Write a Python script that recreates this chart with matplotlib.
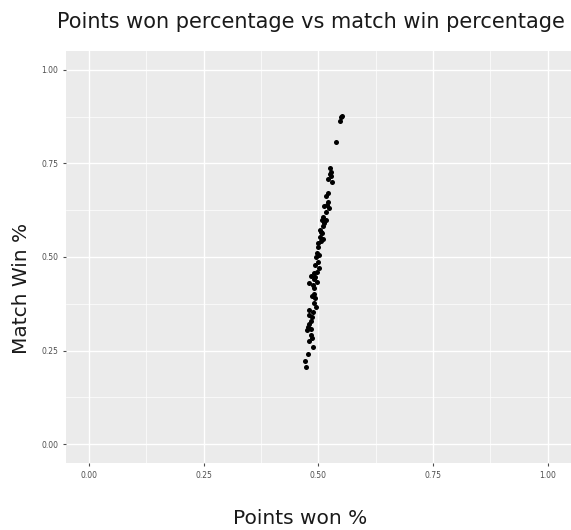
import matplotlib
matplotlib.use('Agg')
import matplotlib.pyplot as plt
from matplotlib.ticker import MultipleLocator

# points won share vs match win share
points_won = [0.549, 0.547, 0.551, 0.538, 0.525, 0.527,
              0.525, 0.527, 0.522, 0.530, 0.520, 0.517, 0.522, 0.518, 0.513,
              0.524, 0.517, 0.511, 0.517, 0.508, 0.513, 0.504, 0.508,
              0.506, 0.504, 0.509, 0.500, 0.499, 0.502, 0.495, 0.500, 0.493,
              0.502, 0.497, 0.490, 0.484, 0.493, 0.480, 0.488, 0.497, 0.491,
              0.490, 0.493, 0.490, 0.495, 0.480, 0.488, 0.486, 0.483, 0.480,
              0.477, 0.475, 0.484, 0.483, 0.486, 0.480, 0.488, 0.478, 0.471,
              0.473, 0.496, 0.491, 0.485, 0.479, 0.511, 0.506]
match_win = [0.873, 0.862, 0.877, 0.808, 0.737, 0.728,
             0.722, 0.715, 0.708, 0.701, 0.670, 0.663, 0.648, 0.639, 0.635,
             0.630, 0.621, 0.608, 0.599, 0.599, 0.590, 0.572, 0.565,
             0.568, 0.554, 0.547, 0.538, 0.528, 0.505, 0.501, 0.487, 0.479,
             0.470, 0.461, 0.456, 0.449, 0.447, 0.430, 0.425, 0.434, 0.416,
             0.401, 0.390, 0.378, 0.367, 0.358, 0.354, 0.340, 0.330, 0.321,
             0.312, 0.305, 0.307, 0.291, 0.285, 0.276, 0.260, 0.242, 0.223,
             0.205, 0.512, 0.441, 0.395, 0.345, 0.584, 0.543]

tick_vals = [0.0, 0.25, 0.5, 0.75, 1.0]
tick_text = ['0.00', '0.25', '0.50', '0.75', '1.00']

fig = plt.figure(figsize=(5.71, 5.30), dpi=100)
ax = fig.add_axes([0.1156, 0.1264, 0.884, 0.7774])
ax.set_facecolor('#EBEBEB')
for s in ax.spines.values():
    s.set_visible(False)

ax.set_xlim(-0.05, 1.05)
ax.set_ylim(-0.05, 1.05)
ax.set_xticks(tick_vals)
ax.set_xticklabels(tick_text)
ax.set_yticks(tick_vals)
ax.set_yticklabels(tick_text)
ax.xaxis.set_minor_locator(MultipleLocator(0.125))
ax.yaxis.set_minor_locator(MultipleLocator(0.125))
ax.grid(which='major', color='white', linewidth=1.0)
ax.grid(which='minor', color='white', linewidth=0.5)
ax.set_axisbelow(True)
ax.tick_params(which='major', length=2.5, width=0.8, color='#4D4D4D',
               labelsize=5.5, labelcolor='#4D4D4D', pad=3)
ax.tick_params(which='minor', length=0)

ax.scatter(points_won, match_win, s=13, color='black', linewidths=0, zorder=3)

fig.text(0.545, 0.958, 'Points won percentage vs match win percentage',
         ha='center', va='center', fontsize=15, color='#1a1a1a')
fig.text(0.525, 0.004, 'Points won %', ha='center', va='bottom',
         fontsize=14.5, color='#1a1a1a')
fig.text(0.038, 0.455, 'Match Win %', ha='center', va='center',
         rotation=90, fontsize=14.5, color='#1a1a1a')

fig.savefig('out.png', dpi=100)
